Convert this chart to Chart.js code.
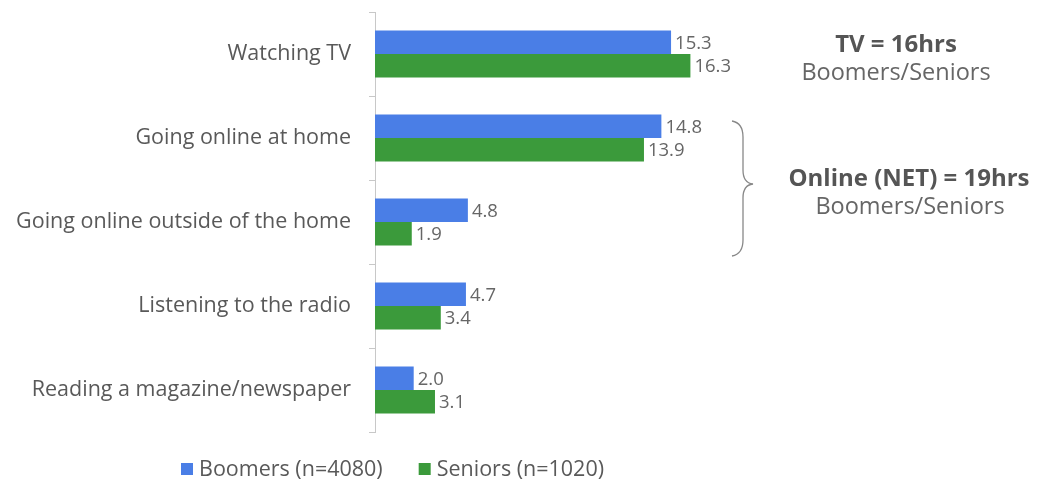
<!DOCTYPE html>
<html>
<head>
<meta charset="utf-8">
<script src="https://cdn.jsdelivr.net/npm/chart.js@4"></script>
<style>
    html, body { margin: 0; padding: 0; background: #fff; }
    #wrap { width: 1043px; height: 484px; }
</style>
</head>
<body>
<div id="wrap"><canvas id="chart"></canvas></div>
<script>
const categories = [
    'Watching TV',
    'Going online at home',
    'Going online outside of the home',
    'Listening to the radio',
    'Reading a magazine/newspaper'
];
const boomers = [15.3, 14.8, 4.8, 4.7, 2.0];
const seniors = [16.3, 13.9, 1.9, 3.4, 3.1];
const seriesNames = ['Boomers (n=4080)', 'Seniors (n=1020)'];
const seriesColors = ['#4a7ee6', '#3b9a3b'];
const noteTitles = ['TV = 16hrs', 'Online (NET) = 19hrs'];
const noteSub = 'Boomers/Seniors';

const FONT = '"Open Sans", sans-serif';

// value labels at the end of each bar
const valueLabels = {
    id: 'valueLabels',
    afterDatasetsDraw(chart) {
        const ctx = chart.ctx;
        ctx.save();
        ctx.font = '18.5px ' + FONT;
        ctx.fillStyle = '#666';
        ctx.textBaseline = 'middle';
        ctx.textAlign = 'left';
        chart.data.datasets.forEach((ds, i) => {
            chart.getDatasetMeta(i).data.forEach((bar, j) => {
                ctx.fillText(ds.data[j].toFixed(1), bar.x + 4, bar.y + 1);
            });
        });
        ctx.restore();
    }
};

// notes on the right, brace, and bottom legend
const notes = {
    id: 'notes',
    afterDraw(chart) {
        const ctx = chart.ctx;
        const y = chart.scales.y;
        const y0 = y.getPixelForValue(0);
        const y1 = y.getPixelForValue(1);
        const y2 = y.getPixelForValue(2);
        ctx.save();
        ctx.textAlign = 'center';
        ctx.textBaseline = 'middle';

        ctx.font = 'bold 24px ' + FONT;
        ctx.fillStyle = '#555';
        ctx.fillText(noteTitles[0], 896, y0 - 9);
        ctx.font = '23.5px ' + FONT;
        ctx.fillStyle = '#666';
        ctx.fillText(noteSub, 896, y0 + 19);

        const mid = (y1 + y2) / 2 + 4;
        ctx.font = 'bold 24px ' + FONT;
        ctx.fillStyle = '#555';
        ctx.fillText(noteTitles[1], 909, mid - 5);
        ctx.font = '23.5px ' + FONT;
        ctx.fillStyle = '#666';
        ctx.fillText(noteSub, 910, mid + 23);

        // brace
        const top = y1 - 17, bot = y2 + 34, bx = 743;
        ctx.strokeStyle = '#888';
        ctx.lineWidth = 1.3;
        ctx.beginPath();
        ctx.moveTo(bx - 11, top);
        ctx.quadraticCurveTo(bx, top + 2, bx, top + 16);
        ctx.lineTo(bx, mid - 14);
        ctx.quadraticCurveTo(bx, mid - 1, bx + 10, mid);
        ctx.quadraticCurveTo(bx, mid + 1, bx, mid + 14);
        ctx.lineTo(bx, bot - 16);
        ctx.quadraticCurveTo(bx, bot - 2, bx - 11, bot);
        ctx.stroke();

        // legend
        ctx.textAlign = 'left';
        ctx.font = '21.5px ' + FONT;
        let lx = 181;
        const ly = 469;
        chart.data.datasets.forEach(ds => {
            ctx.fillStyle = ds.backgroundColor;
            ctx.fillRect(lx, ly - 6, 12, 12);
            ctx.fillStyle = '#595959';
            ctx.fillText(ds.label, lx + 18, ly + 1);
            lx += 18 + ctx.measureText(ds.label).width + 36;
        });
        ctx.restore();
    }
};

new Chart(document.getElementById('chart'), {
    type: 'bar',
    data: {
        labels: categories,
        datasets: [
            { label: seriesNames[0], data: boomers, backgroundColor: seriesColors[0] },
            { label: seriesNames[1], data: seniors, backgroundColor: seriesColors[1] }
        ]
    },
    options: {
        indexAxis: 'y',
        responsive: true,
        maintainAspectRatio: false,
        animation: false,
        layout: { padding: { left: 10, right: 281, top: 12, bottom: 52 } },
        datasets: { bar: { categoryPercentage: 0.56, barPercentage: 1 } },
        plugins: { legend: { display: false }, tooltip: { enabled: false } },
        scales: {
            x: { display: false, min: 0, max: 20 },
            y: {
                afterFit(scale) {
                    scale.width = 365;
                    scale.paddingTop = 0;
                    scale.paddingBottom = 0;
                },
                border: { color: '#c8c8c8' },
                grid: { offset: true, drawOnChartArea: false, tickLength: 6, color: '#c8c8c8' },
                ticks: { color: '#595959', padding: 18, font: { family: FONT, size: 21.5 } }
            }
        }
    },
    plugins: [valueLabels, notes]
});
</script>
</body>
</html>
